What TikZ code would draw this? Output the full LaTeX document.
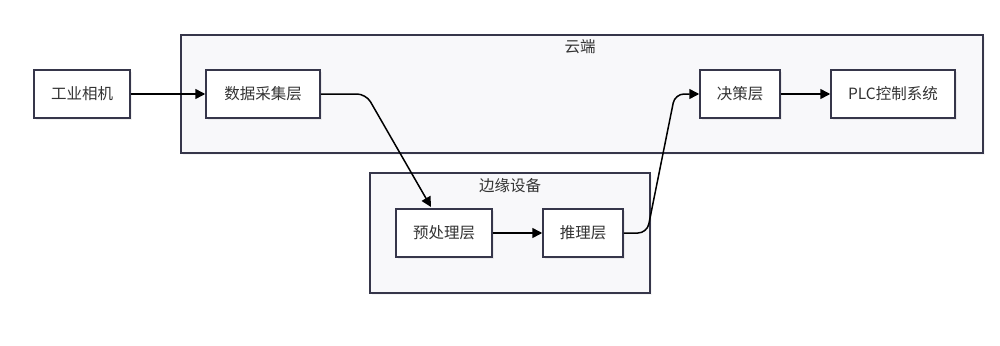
\documentclass[tikz,border=0pt]{standalone}
\usepackage{fontspec}
\newfontfamily\cjk{Noto Sans CJK SC}
\usetikzlibrary{arrows.meta,shadows}
\definecolor{bordo}{HTML}{36364A}
\definecolor{sfondo}{HTML}{F8F8FA}
\definecolor{testo}{HTML}{333333}
\tikzset{
  blocco/.style={draw=bordo, line width=1.5pt, fill=white, inner sep=0pt, minimum height=48pt, text=testo,
    font=\cjk\fontsize{15.5}{18}\selectfont, drop shadow={opacity=0.12, shadow xshift=2pt, shadow yshift=-2pt}},
  gruppo/.style={draw=bordo, line width=1.5pt, fill=sfondo, inner sep=0pt,
    drop shadow={opacity=0.08, shadow xshift=2pt, shadow yshift=-2pt}},
  titolo/.style={text=testo, font=\cjk\fontsize{15.5}{18}\selectfont, inner sep=0pt},
  freccia/.style={-{Triangle[length=10pt,width=10pt]}, line width=1.5pt, rounded corners=9pt}
}
\begin{document}
\begin{tikzpicture}[x=1pt, y=-1pt]
        \useasboundingbox (0,0) rectangle (1000,345);
        %gruppi
        \node[gruppo, minimum width=802pt, minimum height=118pt] (cloud) at (582,94) {};
        \node[titolo] (tcloud) at (580,47) {云端};
        \node[gruppo, minimum width=280pt, minimum height=120pt] (edge) at (510,233) {};
        \node[titolo] (tedge) at (510,186) {边缘设备};

        %blocchi
        \node[blocco, minimum width=96pt] (cam) at (82,94) {工业相机};
        \node[blocco, minimum width=114pt] (collect) at (263,94) {数据采集层};
        \node[blocco, minimum width=80pt] (decide) at (740,94) {决策层};
        \node[blocco, minimum width=124pt] (plc) at (893,94) {PLC控制系统};
        \node[blocco, minimum width=96pt] (pre) at (444,233) {预处理层};
        \node[blocco, minimum width=80pt] (infer) at (583,233) {推理层};

        %frecce
        \coordinate (b1) at (366,94);
        \coordinate (t1) at (431,207);
        \coordinate (b2) at (647,233);
        \coordinate (b3) at (675,94);
        \draw[freccia] (cam) -- (collect);
        \draw[freccia] (collect.east) -- (b1) -- (t1);
        \draw[freccia] (pre) -- (infer);
        \draw[freccia] (infer.east) -- (b2) -- (b3) -- (decide.west);
        \draw[freccia] (decide) -- (plc);
    \end{tikzpicture}
\end{document}
